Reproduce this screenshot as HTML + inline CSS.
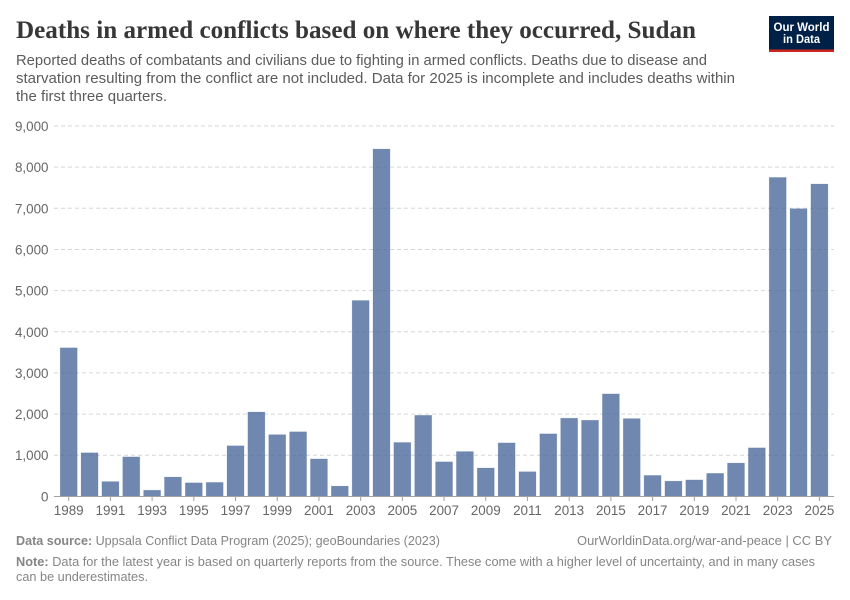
<!DOCTYPE html>
<html lang="en">
<head>
<meta charset="utf-8">
<title>Deaths in armed conflicts based on where they occurred, Sudan</title>
<style>
html,body{margin:0;padding:0;background:#fff;}
svg{display:block;font-family:"Liberation Sans",sans-serif;}
</style>
</head>
<body>
<svg id="chart" width="850" height="600" viewBox="0 0 850 600" xmlns="http://www.w3.org/2000/svg">
  <rect x="0" y="0" width="850" height="600" fill="#fff"/>
  <text x="16" y="38" font-family="'Liberation Serif',serif" font-weight="700" font-size="25.5" fill="#373737" textLength="680" lengthAdjust="spacingAndGlyphs">Deaths in armed conflicts based on where they occurred, Sudan</text>
  <g font-size="14.5" fill="#5b5b5b">
    <text x="16" y="65" textLength="691" lengthAdjust="spacingAndGlyphs">Reported deaths of combatants and civilians due to fighting in armed conflicts. Deaths due to disease and</text>
    <text x="16" y="83" textLength="719" lengthAdjust="spacingAndGlyphs">starvation resulting from the conflict are not included. Data for 2025 is incomplete and includes deaths within</text>
    <text x="16" y="101" textLength="151" lengthAdjust="spacingAndGlyphs">the first three quarters.</text>
  </g>
  <g>
    <rect x="769" y="16" width="65" height="36" fill="#002147"/>
    <rect x="769" y="49.5" width="65" height="2.5" fill="#ce261e"/>
    <text x="801.5" y="31" text-anchor="middle" font-size="11.5" font-weight="700" fill="#fff" textLength="56" lengthAdjust="spacingAndGlyphs">Our World</text>
    <text x="801.5" y="43" text-anchor="middle" font-size="11.5" font-weight="700" fill="#fff" textLength="37" lengthAdjust="spacingAndGlyphs">in Data</text>
  </g>
  <g id="grid"></g>
  <g id="yticks"></g>
  <g id="bars"></g>
  <line x1="54" x2="834" y1="496.5" y2="496.5" stroke="#a1a1a1" stroke-width="1"/>
  <g id="xticks"></g>
  <g font-size="13" fill="#858585">
    <text x="16" y="545" textLength="424" lengthAdjust="spacingAndGlyphs"><tspan font-weight="700">Data source:</tspan> Uppsala Conflict Data Program (2025); geoBoundaries (2023)</text>
    <text x="832" y="545" text-anchor="end" textLength="255" lengthAdjust="spacingAndGlyphs">OurWorldinData.org/war-and-peace | CC BY</text>
    <text x="16" y="566" textLength="799" lengthAdjust="spacingAndGlyphs"><tspan font-weight="700">Note:</tspan> Data for the latest year is based on quarterly reports from the source. These come with a higher level of uncertainty, and in many cases</text>
    <text x="16" y="581" textLength="132" lengthAdjust="spacingAndGlyphs">can be underestimates.</text>
  </g>
</svg>
<script>
const years = [1989,1990,1991,1992,1993,1994,1995,1996,1997,1998,1999,2000,2001,2002,2003,2004,2005,2006,2007,2008,2009,2010,2011,2012,2013,2014,2015,2016,2017,2018,2019,2020,2021,2022,2023,2024,2025];
const deaths = [3610,1060,360,960,150,470,330,340,1230,2050,1500,1570,910,250,4760,8440,1310,1970,840,1090,690,1300,600,1520,1900,1850,2490,1890,510,370,400,560,810,1180,7750,6990,7590];
const yTickValues = [0,1000,2000,3000,4000,5000,6000,7000,8000,9000];
const xTickYears = [1989,1991,1993,1995,1997,1999,2001,2003,2005,2007,2009,2011,2013,2015,2017,2019,2021,2023,2025];

const NS = 'http://www.w3.org/2000/svg';
const plotLeft = 54, plotRight = 834, plotTop = 126, plotBottom = 496.4;
const xFirst = 68.7, xStep = 20.853, barWidth = 17;
const yMax = 9000;
function xScale(year){ return xFirst + (year - years[0]) * xStep; }
function yScale(v){ return plotBottom - (v / yMax) * (plotBottom - plotTop); }
function fmt(v){ return v.toLocaleString('en-US'); }
function make(tag, attrs, parent){
  const el = document.createElementNS(NS, tag);
  for (const k in attrs) el.setAttribute(k, attrs[k]);
  parent.appendChild(el);
  return el;
}
const gridG = document.getElementById('grid');
const yG = document.getElementById('yticks');
const barG = document.getElementById('bars');
const xG = document.getElementById('xticks');

yTickValues.forEach(function(v){
  if (v > 0) {
    const ln = make('line', {x1: plotLeft, x2: plotRight, y1: yScale(v), y2: yScale(v), stroke: '#d6d6d6', 'stroke-width': 1, 'stroke-dasharray': '4,3'}, gridG);
    
    
  }
  const t = make('text', {x: 48.5, y: yScale(v) + 5, 'text-anchor': 'end', 'font-size': 13.4, fill: '#666666'}, yG);
  t.textContent = fmt(v);
  
  
});

years.forEach(function(yr, i){
  const top = yScale(deaths[i]);
  const r = make('rect', {x: xScale(yr) - barWidth / 2, y: top, width: barWidth, height: plotBottom - top, fill: '#4c6a9c', 'fill-opacity': 0.8, stroke: '#4c6a9c', 'stroke-opacity': 0.25, 'stroke-width': 0.7}, barG);
  
  
});

xTickYears.forEach(function(yr){
  const x = xScale(yr);
  const tk = make('line', {x1: x, x2: x, y1: 496.5, y2: 501, stroke: '#a1a1a1', 'stroke-width': 1}, xG);
  
  
  const t = make('text', {x: x, y: 515, 'text-anchor': 'middle', 'font-size': 13.4, fill: '#666666'}, xG);
  t.textContent = String(yr);
  
  
});
</script>
</body>
</html>
